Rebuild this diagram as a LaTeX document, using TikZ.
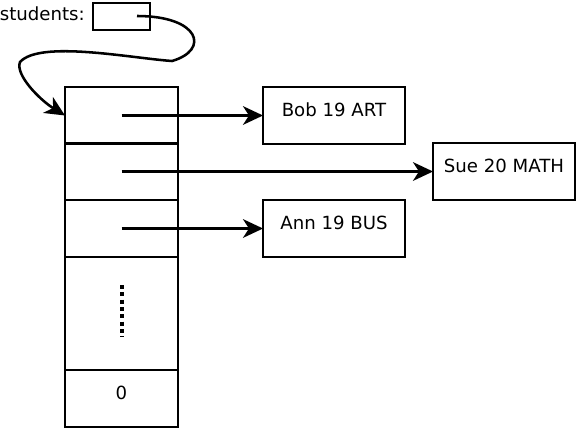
\documentclass[tikz,border=0pt]{standalone}
\usepackage{fontspec}
\setmainfont{DejaVu Sans}
\usetikzlibrary{arrows.meta}
\tikzset{
  cell/.style={draw, minimum width=84.75pt, minimum height=42.75pt, inner sep=0pt, outer sep=0pt, anchor=north west},
  rec/.style={draw, minimum width=106.5pt, minimum height=42.75pt, inner sep=0pt, outer sep=0pt, anchor=north west},
  txt/.style={inner sep=0pt, font=\fontsize{13.6}{15}\selectfont},
  ptr/.style={-{Stealth[length=15pt, width=14pt, inset=4.5pt]}}
}
\begin{document}
\begin{tikzpicture}[x=0.75pt, y=-0.75pt, line width=1.9pt]
  \useasboundingbox (0,0) rectangle (577,429);
  % the variable
  \node[draw, minimum width=42.75pt, minimum height=20.25pt, inner sep=0pt, outer sep=0pt, anchor=north west] (head) at (93,3) {};
  \node[txt, anchor=base east] (lbl) at (86,20) {students:};
  \coordinate (hstart) at (137,16);
  % the array
  \node[cell] (c1) at (65,87) {};
  \node[cell] (c2) at (65,143) {};
  \node[cell] (c3) at (65,200) {};
  \node[cell, minimum height=84.75pt] (c4) at (65,257) {};
  \node[cell] (c5) at (65,370) {};
  \node[txt] (zero) at ([yshift=4pt]c5.center) {0};
  \coordinate (dtop) at (122,285);
  \coordinate (dbot) at (122,337);
  \draw[line width=2.4pt, dash pattern=on 3pt off 2.5pt] (dtop) -- (dbot);
  % the records
  \node[rec] (bob) at (263,87) {};
  \node[rec] (sue) at (433,143) {};
  \node[rec] (ann) at (263,200) {};
  \node[txt] (bobt) at ([yshift=4pt]bob.center) {Bob 19 ART};
  \node[txt] (suet) at ([yshift=4pt]sue.center) {Sue 20 MATH};
  \node[txt] (annt) at ([yshift=4pt]ann.center) {Ann 19 BUS};
  % pointers
  \draw[ptr] (hstart) .. controls (200,16) and (210,50) .. (172,61)
    .. controls (130,58) and (40,40) .. (20,62)
    .. controls (15,75) and (40,100) .. (c1.west);
  \draw[ptr] (c1.center) -- (bob.west);
  \draw[ptr] (c2.center) -- (sue.west);
  \draw[ptr] (c3.center) -- (ann.west);
\end{tikzpicture}
\end{document}
